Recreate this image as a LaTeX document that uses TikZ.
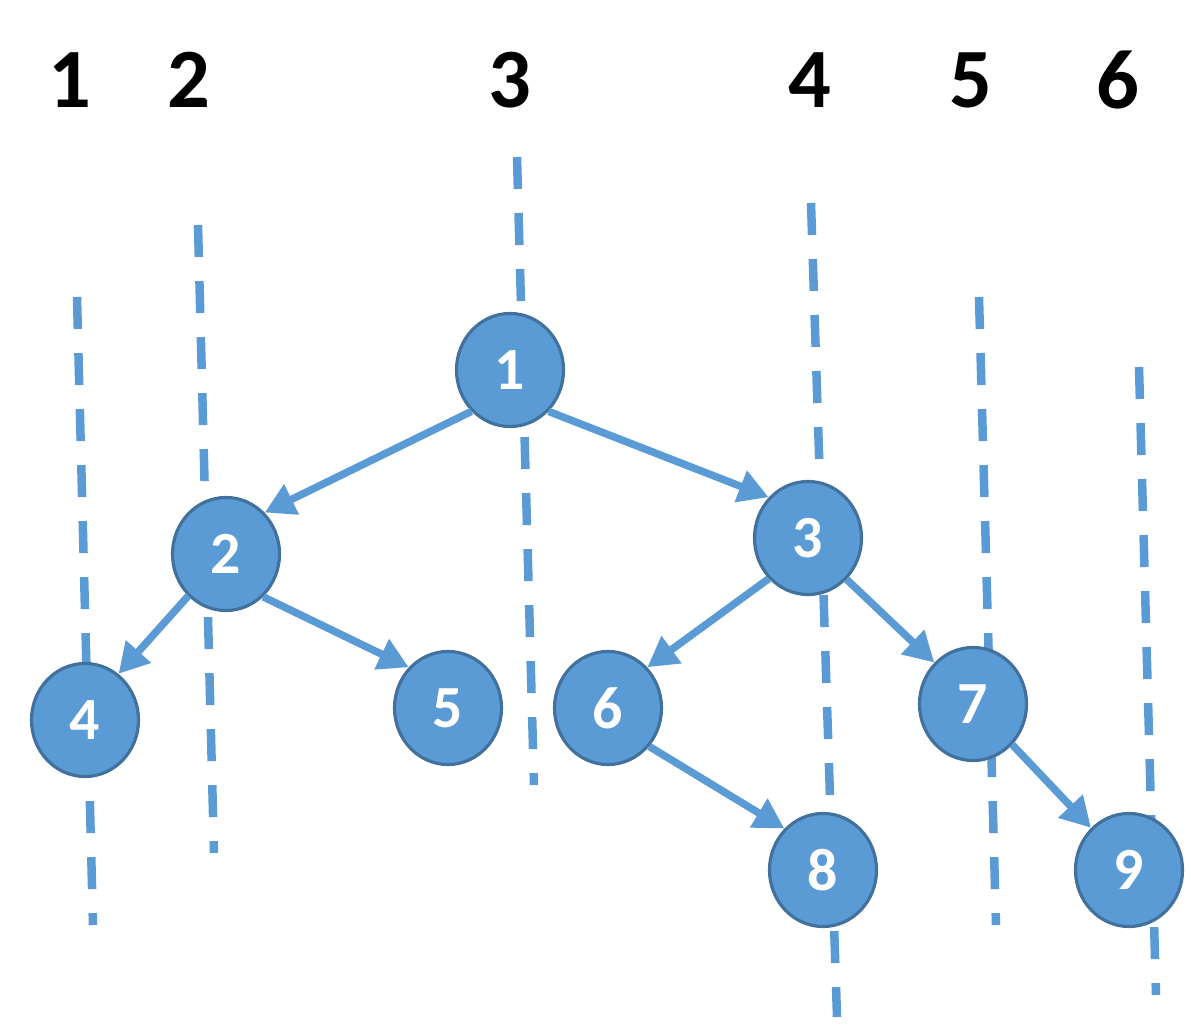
\documentclass[tikz,border=0pt]{standalone}
\usepackage{fontspec}
\setmainfont{Carlito}
\usetikzlibrary{arrows.meta,shapes.geometric}
\definecolor{nodeblue}{HTML}{5B9BD5}
\definecolor{nodeedge}{HTML}{41719C}
\begin{document}
\begin{tikzpicture}[x=0.01cm,y=-0.01cm,
    vertex/.style={ellipse,fill=nodeblue,draw=nodeedge,line width=0.9pt,
        minimum width=1.07cm,minimum height=1.13cm,inner sep=0pt,
        text=white,font=\fontsize{17}{17}\selectfont\bfseries},
    colnum/.style={font=\fontsize{24}{24}\selectfont\bfseries},
    guide/.style={nodeblue,line width=0.085cm,
        dash pattern=on 0.32cm off 0.24cm},
    edge/.style={nodeblue,line width=0.075cm,
        -{Triangle[length=0.3cm,width=0.32cm]}}]
    \useasboundingbox (0,0) rectangle (1191,1025);

    % column numbers
    \node[colnum] (c1) at (70,80) {1};
    \node[colnum] (c2) at (189,80) {2};
    \node[colnum] (c3) at (510,80) {3};
    \node[colnum] (c4) at (810,80) {4};
    \node[colnum] (c5) at (971,80) {5};
    \node[colnum] (c6) at (1118,80) {6};

    % vertical column lines
    \draw[guide] (77,297) -- (93,925);
    \draw[guide] (198,225) -- (214,853);
    \draw[guide] (517,157) -- (534,785);
    \draw[guide] (811,203) -- (837,1017);
    \draw[guide] (979,297) -- (996,925);
    \draw[guide] (1139,367) -- (1156,995);

    % tree
    \node[vertex] (n1) at (510,370) {1};
    \node[vertex] (n2) at (226,554) {2};
    \node[vertex] (n3) at (808,538) {3};
    \node[vertex] (n4) at (85,720) {4};
    \node[vertex] (n5) at (448,708) {5};
    \node[vertex] (n6) at (608,708) {6};
    \node[vertex] (n7) at (973,704) {7};
    \node[vertex] (n8) at (823,870) {8};
    \node[vertex] (n9) at (1129,870) {9};

    \draw[edge] (n1.227) -- (n2.47);
    \draw[edge] (n1.313) -- (n3.134);
    \draw[edge] (n2.228) -- (n4.54);
    \draw[edge] (n2.311) -- (n5.134);
    \draw[edge] (n3.226) -- (n6.46);
    \draw[edge] (n3.313) -- (n7.133);
    \draw[edge] (n6.317) -- (n8.133);
    \draw[edge] (n7.314) -- (n9.132);
\end{tikzpicture}
\end{document}
